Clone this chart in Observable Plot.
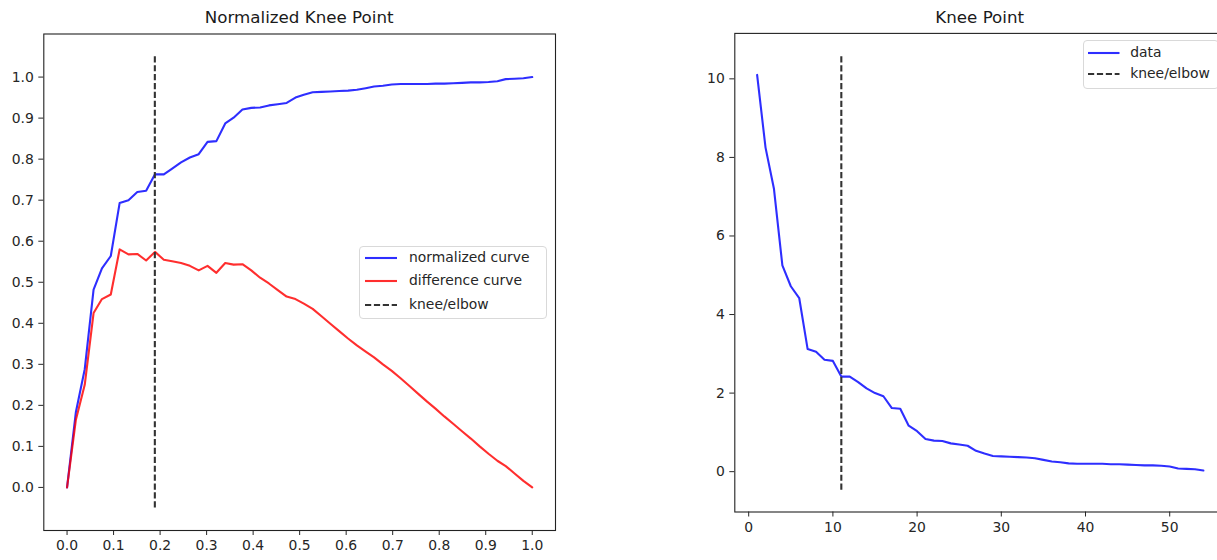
<!DOCTYPE html>
<html><head><meta charset="utf-8">
<script src="https://cdn.jsdelivr.net/npm/d3@7"></script>
<script src="https://cdn.jsdelivr.net/npm/@observablehq/plot@0.6"></script>
<style>
html,body{margin:0;padding:0;background:#fff;overflow:hidden;}
#wrap{position:relative;width:1217px;height:560px;overflow:hidden;font-family:"DejaVu Sans",sans-serif;}
.panel{position:absolute;top:0;}
.title{position:absolute;font-size:16.7px;color:#1a1a1a;white-space:nowrap;transform:translate(-50%,-50%);line-height:1;}
.legend{position:absolute;border:1px solid #d9d9d9;border-radius:4px;background:rgba(255,255,255,0.8);box-sizing:border-box;}
.row{position:absolute;font-size:13.9px;color:#262626;white-space:nowrap;line-height:1;transform:translateY(-50%);}
.legend svg{position:absolute;overflow:visible;}
</style></head>
<body><div id="wrap"></div>
<script>
// ---- data ----
const xIndex = [1,2,3,4,5,6,7,8,9,10,11,12,13,14,15,16,17,18,19,20,21,22,23,24,25,26,27,28,29,30,31,32,33,34,35,36,37,38,39,40,41,42,43,44,45,46,47,48,49,50,51,52,53,54];
const dataValues = [10.10,8.25,7.20,5.25,4.72,4.42,3.12,3.05,2.85,2.82,2.42,2.42,2.28,2.12,2.00,1.92,1.62,1.60,1.17,1.03,0.83,0.79,0.78,0.72,0.69,0.66,0.53,0.46,0.40,0.39,0.38,0.37,0.36,0.34,0.30,0.26,0.24,0.21,0.20,0.20,0.20,0.20,0.19,0.19,0.18,0.17,0.16,0.16,0.15,0.13,0.08,0.07,0.06,0.03];
const xNormalized = [0,0.019,0.038,0.057,0.075,0.094,0.113,0.132,0.151,0.170,0.189,0.208,0.226,0.245,0.264,0.283,0.302,0.321,0.340,0.358,0.377,0.396,0.415,0.434,0.453,0.472,0.491,0.509,0.528,0.547,0.566,0.585,0.604,0.623,0.642,0.660,0.679,0.698,0.717,0.736,0.755,0.774,0.792,0.811,0.830,0.849,0.868,0.887,0.906,0.925,0.943,0.962,0.981,1.0];
const normalizedCurve = [0,0.184,0.288,0.482,0.534,0.564,0.693,0.700,0.720,0.723,0.763,0.763,0.777,0.792,0.804,0.812,0.842,0.844,0.887,0.901,0.921,0.925,0.926,0.931,0.934,0.937,0.950,0.957,0.963,0.964,0.965,0.966,0.967,0.969,0.973,0.977,0.979,0.982,0.983,0.983,0.983,0.983,0.984,0.984,0.985,0.986,0.987,0.987,0.988,0.990,0.995,0.996,0.997,1.0];
const differenceCurve = [0,0.165,0.250,0.425,0.459,0.470,0.580,0.568,0.569,0.553,0.574,0.555,0.551,0.547,0.540,0.529,0.540,0.523,0.547,0.543,0.544,0.529,0.511,0.497,0.481,0.465,0.459,0.448,0.435,0.417,0.399,0.381,0.363,0.346,0.331,0.317,0.300,0.284,0.266,0.247,0.228,0.209,0.192,0.173,0.155,0.137,0.119,0.100,0.082,0.065,0.052,0.034,0.016,0];
const kneeX = 11;
const kneeXNormalized = 0.1887;
const kneeSpanLeft = [-0.05, 1.05];
const kneeSpanRight = [-0.4735, 10.6035];
const leftXTicks = [0,0.1,0.2,0.3,0.4,0.5,0.6,0.7,0.8,0.9,1.0];
const leftYTicks = [0,0.1,0.2,0.3,0.4,0.5,0.6,0.7,0.8,0.9,1.0];
const rightXTicks = [0,10,20,30,40,50];
const rightYTicks = [0,2,4,6,8,10];
const titles = ["Normalized Knee Point", "Knee Point"];
const leftLegendLabels = ["normalized curve", "difference curve", "knee/elbow"];
const rightLegendLabels = ["data", "knee/elbow"];

const BLUE = "#0000ff", RED = "#ff0000", KNEE = "#333333";
const LW = 2.1, DASH = "6.2,2.7";
const wrap = document.getElementById("wrap");
const baseStyle = {fontFamily: "DejaVu Sans", fontSize: "13.9px", color: "#262626", background: "transparent", overflow: "visible"};

// ---- left panel ----
const leftRows = xNormalized.map((x, i) => ({x, norm: normalizedCurve[i], diff: differenceCurve[i]}));
const left = Plot.plot({
  width: 600, height: 560,
  marginLeft: 43.3, marginRight: 45, marginTop: 33.5, marginBottom: 30,
  x: {domain: [-0.05, 1.05]},
  y: {domain: [-0.105, 1.105]},
  style: baseStyle,
  marks: [
    Plot.line(leftRows, {x: "x", y: "norm", stroke: BLUE, strokeWidth: LW, strokeOpacity: 0.82}),
    Plot.line(leftRows, {x: "x", y: "diff", stroke: RED, strokeWidth: LW, strokeOpacity: 0.82}),
    Plot.ruleX([{x: kneeXNormalized, y1: kneeSpanLeft[0], y2: kneeSpanLeft[1]}], {x: "x", y1: "y1", y2: "y2", stroke: KNEE, strokeWidth: LW, strokeDasharray: DASH}),
    Plot.axisX(leftXTicks, {tickFormat: d3.format(".1f"), tickSize: 5, tickPadding: 5, label: null}),
    Plot.axisY(leftYTicks, {tickFormat: d3.format(".1f"), tickSize: 5, tickPadding: 5, label: null}),
    Plot.frame({stroke: "#222", strokeWidth: 1.1})
  ]
});
left.classList.add("panel");
left.style.left = "0px";
wrap.appendChild(left);

// ---- right panel ----
const RIGHT_LEFT = 640;
const rightRows = xIndex.map((x, i) => ({x, y: dataValues[i]}));
const right = Plot.plot({
  width: 640, height: 560,
  marginLeft: 94.3, marginRight: 54.8, marginTop: 32.9, marginBottom: 48.5,
  x: {domain: [-1.65, 56.65]},
  y: {domain: [-1.027, 11.157]},
  style: baseStyle,
  marks: [
    Plot.line(rightRows, {x: "x", y: "y", stroke: BLUE, strokeWidth: LW, strokeOpacity: 0.82}),
    Plot.ruleX([{x: kneeX, y1: kneeSpanRight[0], y2: kneeSpanRight[1]}], {x: "x", y1: "y1", y2: "y2", stroke: KNEE, strokeWidth: LW, strokeDasharray: DASH}),
    Plot.axisX(rightXTicks, {tickFormat: d3.format("d"), tickSize: 5, tickPadding: 5, label: null}),
    Plot.axisY(rightYTicks, {tickFormat: d3.format("d"), tickSize: 5, tickPadding: 5, label: null}),
    Plot.frame({stroke: "#222", strokeWidth: 1.1})
  ]
});
right.classList.add("panel");
right.style.left = RIGHT_LEFT + "px";
wrap.appendChild(right);

// ---- titles ----
function addTitle(text, cx, cy) {
  const d = document.createElement("div");
  d.className = "title"; d.textContent = text;
  d.style.left = cx + "px"; d.style.top = cy + "px";
  wrap.appendChild(d);
}
addTitle(titles[0], 299.2, 17);
addTitle(titles[1], 979.7, 17);

// ---- legends ----
function addLegend(box, items) {
  const lg = document.createElement("div");
  lg.className = "legend";
  Object.assign(lg.style, {left: box.x + "px", top: box.y + "px", width: box.w + "px", height: box.h + "px"});
  items.forEach((it, i) => {
    const cy = box.row0 + i * box.dy;
    const svg = d3.create("svg").attr("width", box.lineW).attr("height", 4)
      .style("left", box.lineX + "px").style("top", (cy - 2) + "px");
    svg.append("line").attr("x1", 0).attr("x2", box.lineW).attr("y1", 2).attr("y2", 2)
      .attr("stroke", it.color).attr("stroke-width", LW).attr("stroke-opacity", it.opacity)
      .attr("stroke-dasharray", it.dash || null);
    lg.appendChild(svg.node());
    const t = document.createElement("div");
    t.className = "row"; t.textContent = it.label;
    t.style.left = box.textX + "px"; t.style.top = cy + "px";
    lg.appendChild(t);
  });
  wrap.appendChild(lg);
}
addLegend({x: 359, y: 246, w: 188, h: 73, row0: 11, dy: 23.3, lineX: 4.5, lineW: 32, textX: 49},
  [{label: leftLegendLabels[0], color: BLUE, opacity: 0.82},
   {label: leftLegendLabels[1], color: RED, opacity: 0.82},
   {label: leftLegendLabels[2], color: KNEE, opacity: 1, dash: DASH}]);
addLegend({x: 1082.7, y: 40, w: 136, h: 48.5, row0: 11.5, dy: 21.7, lineX: 4, lineW: 31.5, textX: 46.5},
  [{label: rightLegendLabels[0], color: BLUE, opacity: 0.82},
   {label: rightLegendLabels[1], color: KNEE, opacity: 1, dash: DASH}]);
</script>
</body></html>
